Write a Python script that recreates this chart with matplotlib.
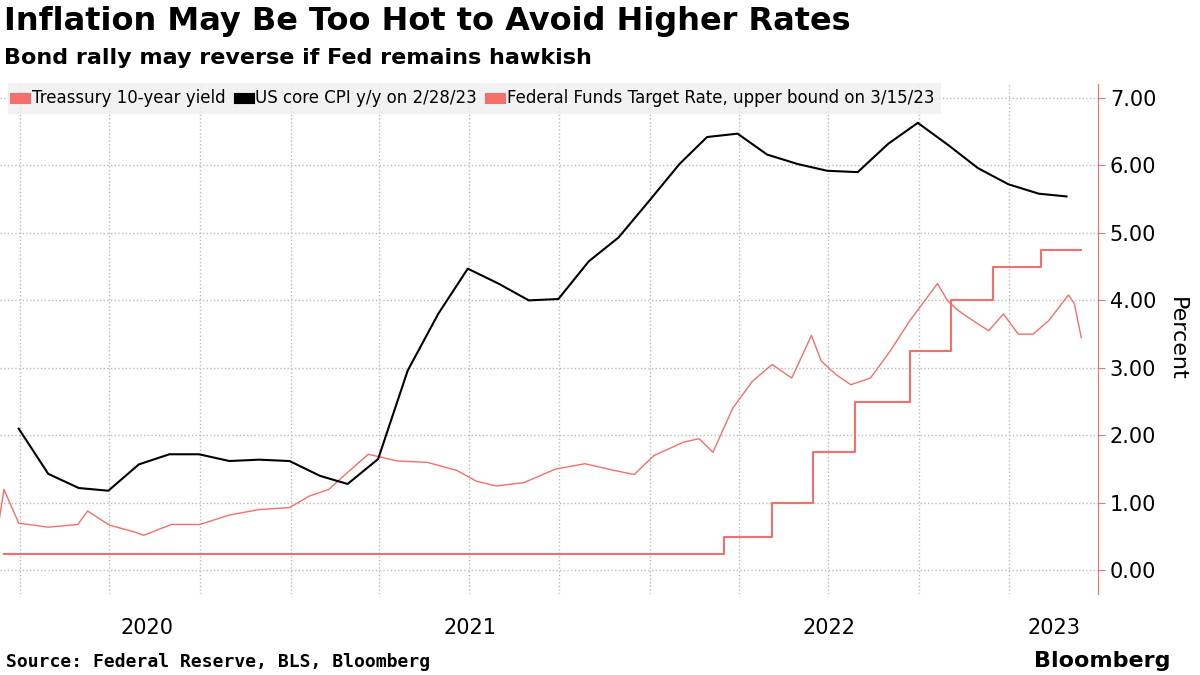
"""
inflation_chart
===============
Treasury yield, core CPI and Fed funds target rate, 2020-2023.

Design notes
------------
- Matplotlib only, figure and axes objects created locally.
- Values are read off the reference picture.
"""

import matplotlib.pyplot as plt
import pandas as pd

# US core CPI y/y, month ends
cpi_dates = pd.date_range("2020-03-31", "2023-02-28", freq="ME")
cpi_values = [2.10, 1.43, 1.22, 1.18, 1.57, 1.72, 1.72, 1.62, 1.64, 1.62,
              1.40, 1.28, 1.65, 2.96, 3.80, 4.47, 4.25, 4.00, 4.02, 4.58,
              4.93, 5.47, 6.02, 6.42, 6.47, 6.16, 6.02, 5.92, 5.90, 6.32,
              6.63, 6.30, 5.96, 5.72, 5.58, 5.54]

# Treasury 10-year yield (sampled)
ust_dates = ["2020-03-09", "2020-03-16", "2020-03-31", "2020-04-30", "2020-05-30",
             "2020-06-09", "2020-07-01", "2020-07-24", "2020-08-05", "2020-09-02",
             "2020-10-01", "2020-10-31", "2020-11-30", "2020-12-31", "2021-01-20",
             "2021-02-09", "2021-02-24", "2021-03-21", "2021-04-20", "2021-05-20",
             "2021-06-19", "2021-07-09", "2021-07-29", "2021-08-26", "2021-09-27",
             "2021-10-27", "2021-11-26", "2021-12-16", "2022-01-05", "2022-02-04",
             "2022-02-20", "2022-03-06", "2022-03-26", "2022-04-15", "2022-05-05",
             "2022-05-25", "2022-06-14", "2022-06-24", "2022-07-09", "2022-07-24",
             "2022-08-13", "2022-09-02", "2022-09-22", "2022-10-20", "2022-10-30",
             "2022-11-10", "2022-11-25", "2022-12-11", "2022-12-26", "2023-01-10",
             "2023-01-25", "2023-02-10", "2023-03-02", "2023-03-08", "2023-03-15"]
ust_values = [0.54, 1.20, 0.70, 0.64, 0.68, 0.88, 0.67, 0.58, 0.52, 0.68,
              0.68, 0.82, 0.90, 0.93, 1.10, 1.20, 1.40, 1.72, 1.62, 1.60,
              1.48, 1.32, 1.25, 1.30, 1.50, 1.58, 1.48, 1.42, 1.70, 1.90,
              1.95, 1.75, 2.40, 2.80, 3.05, 2.85, 3.48, 3.10, 2.90, 2.75,
              2.85, 3.25, 3.70, 4.25, 4.00, 3.85, 3.70, 3.55, 3.80, 3.50,
              3.50, 3.70, 4.08, 3.95, 3.45]

# Federal Funds target rate, upper bound
ffr_dates = ["2020-03-16", "2022-03-17", "2022-05-05", "2022-06-16", "2022-07-28",
             "2022-09-22", "2022-11-03", "2022-12-15", "2023-02-02", "2023-03-15"]
ffr_values = [0.25, 0.50, 1.00, 1.75, 2.50, 3.25, 4.00, 4.50, 4.75, 4.75]


def main():
    """Draw the chart and save it."""
    red = "#f36f6b"
    fig, ax = plt.subplots(figsize=(12, 6.75), dpi=100)
    fig.subplots_adjust(left=0.0, right=0.915, top=0.875, bottom=0.12)

    ax.step(pd.to_datetime(ffr_dates), ffr_values, where="post", color=red, linewidth=1.5)
    ax.plot(pd.to_datetime(ust_dates), ust_values, color=red, linewidth=1.0)
    ax.plot(cpi_dates, cpi_values, color="black", linewidth=1.5)

    ax.set_xlim(pd.Timestamp("2020-03-12"), pd.Timestamp("2023-04-01"))
    ax.set_ylim(-0.35, 7.2)
    ax.yaxis.tick_right()
    ax.yaxis.set_label_position("right")
    ax.set_yticks([0, 1, 2, 3, 4, 5, 6, 7])
    ax.set_yticklabels([f"{v:.2f}" for v in range(8)], fontsize=15)
    ax.set_ylabel("Percent", fontsize=16, rotation=270, labelpad=22)
    ax.tick_params(axis="y", length=5, color=red)
    for side in ["top", "left", "bottom"]:
        ax.spines[side].set_visible(False)
    ax.spines["right"].set_color(red)

    # quarterly dotted grid, year labels at the middle of each visible year
    ax.set_xticks(pd.date_range("2020-04-01", "2023-01-01", freq="QS"))
    ax.set_xticklabels([])
    ax.tick_params(axis="x", length=0)
    ax.grid(True, linestyle=":", color="#bbbbbb", linewidth=1)
    for year, mid in [("2020", "2020-08-08"), ("2021", "2021-07-02"),
                      ("2022", "2022-07-02"), ("2023", "2023-02-15")]:
        ax.text(pd.Timestamp(mid), -0.95, year, ha="center", fontsize=15)

    ax.legend(["Treassury 10-year yield", "US core CPI y/y on 2/28/23",
               "Federal Funds Target Rate, upper bound on 3/15/23"],
              loc="upper left", bbox_to_anchor=(0.0, 1.02), ncol=3, frameon=True,
              fontsize=12, handlelength=0.6, handleheight=0.6, columnspacing=0.8,
              handletextpad=0.4, fancybox=False, edgecolor="none", facecolor="#efefef")
    leg = ax.get_legend()
    for h, c in zip(leg.legend_handles, [red, "black", red]):
        h.set_color(c)
        h.set_linewidth(8)

    fig.text(0.003, 0.955, "Inflation May Be Too Hot to Avoid Higher Rates",
             fontsize=23, fontweight="bold")
    fig.text(0.003, 0.905, "Bond rally may reverse if Fed remains hawkish",
             fontsize=16, fontweight="bold")
    fig.text(0.005, 0.012, "Source: Federal Reserve, BLS, Bloomberg",
             fontsize=13, fontweight="bold", family="DejaVu Sans Mono")
    fig.text(0.975, 0.012, "Bloomberg", fontsize=16, fontweight="bold", ha="right")

    fig.savefig("out.png")


if __name__ == "__main__":
    main()
